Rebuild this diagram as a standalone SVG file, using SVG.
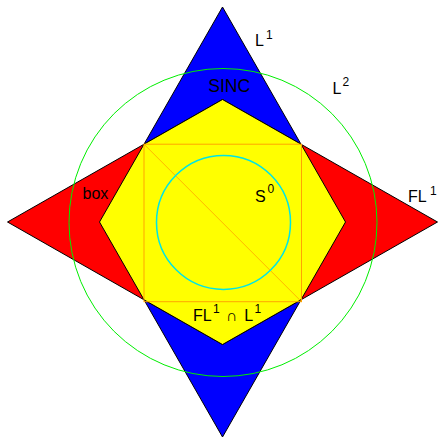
<svg xmlns="http://www.w3.org/2000/svg" width="438" height="438" viewBox="0 0 438 438">
<style>
.shape{stroke:#000;stroke-width:1;stroke-linejoin:miter}
.t{font-family:"Liberation Sans",Arial,sans-serif;font-size:16px;fill:#000}
.s{font-family:"Liberation Sans",Arial,sans-serif;font-size:12px;fill:#000}
</style>
<rect width="438" height="438" fill="#fff"/>
<g id="L1">
<polygon class="shape" fill="#0000ff" points="222.5,7 345.5,222 222.5,437 99.5,222"/>
</g>
<g id="FL1">
<polygon class="shape" fill="#ff0000" points="7.5,222 222.5,99.5 437.5,222 222.5,344.5"/>
</g>
<g id="FL1capL1">
<polygon class="shape" fill="#ffff00" points="222.5,99.5 301,144.2 345.5,222 301,299.8 222.5,344.5 144,299.8 99.5,222 144,144.2"/>
</g>
<g id="box">
<rect x="144" y="144.2" width="157.5" height="157.5" fill="none" stroke="#ffa500" stroke-width="1"/>
</g>
<g id="connectors">
<line x1="144" y1="144.2" x2="301.5" y2="301.7" stroke="#ffa500" stroke-width="0.8"/>
</g>
<g id="S0">
<circle cx="223.5" cy="222.4" r="67" fill="none" stroke="#00e5e5" stroke-width="1.5"/>
</g>
<g id="L2">
<circle cx="223" cy="222.5" r="154" fill="none" stroke="#00ee00" stroke-width="1"/>
</g>
<g id="labels">
<text class="t" x="255" y="46">L</text><text class="s" x="266" y="38.5">1</text>
<text class="t" x="332.5" y="94.3">L</text><text class="s" x="342.5" y="86">2</text>
<text class="t" x="208.3" y="91.7" style="font-size:17.5px">SINC</text>
<text class="t" x="82.5" y="199">box</text>
<text class="t" x="408" y="201.7">FL</text><text class="s" x="430" y="195">1</text>
<text class="t" x="255" y="202.3">S</text><text class="s" x="267.5" y="193">0</text>
<text class="t" x="193" y="320.7">FL</text><text class="s" x="213" y="313">1</text>
<text class="t" x="226" y="320.7">∩</text>
<text class="t" x="244.3" y="320.7">L</text><text class="s" x="254.5" y="313">1</text>
</g>
</svg>
